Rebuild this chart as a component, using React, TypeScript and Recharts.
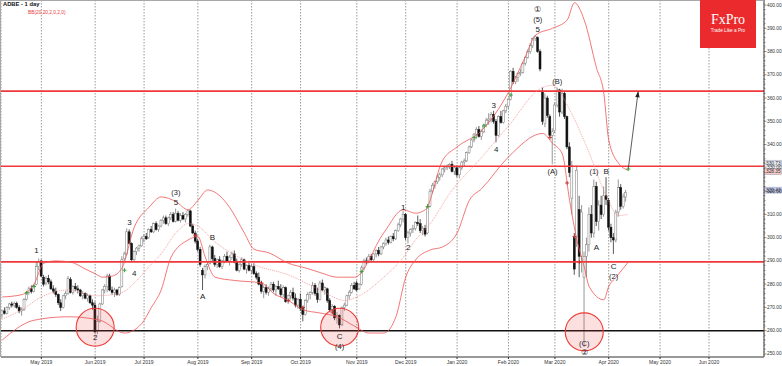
import {
  Bar,
  CartesianGrid,
  ComposedChart,
  Line,
  ReferenceDot,
  ReferenceLine,
  XAxis,
  YAxis,
} from "recharts";

// [open, high, low, close], one per trading day
type Ohlc = [number, number, number, number];

const apr2019: Ohlc[] = [
  [267, 269, 265.5, 268.5], [268.5, 270, 267, 267.5], [267.5, 270.5, 267, 270], [270, 272, 269, 271.5],
  [271.5, 272.5, 270, 271], [271, 272.5, 270, 271.8], [271.8, 272.5, 269.5, 270], [270, 271, 267.5, 268.5],
  [268.5, 270, 266.5, 269], [269, 274, 268.5, 273.5], [273.5, 277, 273, 276.5], [276.5, 279, 275.5, 278],
  [278, 279.5, 276, 276.8], [277, 280, 276.5, 279.5], [280, 289.5, 279.5, 287.5], [287.5, 291, 286, 289.5],
];
const may2019: Ohlc[] = [
  [290, 290.5, 283, 283.5], [283, 284, 279, 280], [280.5, 283.5, 279.5, 282.5], [282.5, 284, 280, 281],
  [281, 282, 277.5, 278], [278, 279.5, 276, 277], [277, 278.5, 274.5, 275.5], [275.5, 276, 271, 272],
  [272, 273.5, 268.5, 270], [270, 275.5, 269.5, 275], [275, 277, 273.5, 276], [276, 283.5, 275.5, 282.5],
  [282, 283, 276, 276.5], [276.5, 279.5, 275.5, 279], [279, 280.5, 277, 278], [278, 279.5, 276, 277.5],
  [277.5, 278, 274.5, 275], [275, 277, 273.5, 276], [276, 276.5, 273.5, 274], [274, 276, 272.5, 275],
  [275, 275.5, 271.5, 272], [272, 273.5, 269, 271],
];
const jun2019: Ohlc[] = [
  [271, 272.5, 259, 259.5], [260, 266.5, 258.5, 264], [264, 272, 263.5, 271.5], [271.5, 278, 271, 277.5],
  [277.5, 280, 276, 279], [279, 284.5, 276.5, 283.5], [283.5, 284.5, 277, 277.5], [277.5, 279, 275.5, 276.5],
  [276.5, 278.5, 274.5, 277.5], [277.5, 278, 275, 275.5], [275.5, 279, 275, 278.5], [279, 292, 278.5, 290.5],
  [291, 294, 289.5, 293], [293, 304, 292.5, 302.5], [302.5, 303.5, 297, 297.5], [297.5, 298, 289.5, 290.5],
  [290.5, 294.5, 289.5, 294], [294, 296, 292.5, 295.5], [295.5, 297, 294, 296.5], [296.5, 300.5, 296, 299.5],
];
const jul2019: Ohlc[] = [
  [299.5, 301.5, 298, 300.5], [300.5, 302, 299, 299.5], [300, 304, 299.5, 303.5], [303.5, 305, 302, 302.5],
  [302.5, 306.5, 302, 306], [306, 307, 303, 303.5], [303.5, 305.5, 302.5, 305], [305, 308, 304.5, 307.5],
  [307.5, 309.5, 306, 308.5], [308.5, 309.5, 305.5, 306], [306, 309, 305, 308.5], [308.5, 311, 307.5, 310],
  [310, 311, 306.5, 307], [307, 312.5, 306.5, 310.5], [310.5, 311.5, 307, 307.5], [307.5, 310.5, 306.5, 309.5],
  [309.5, 311, 307.5, 308], [308, 310.5, 306.5, 310], [310, 312, 309, 311.5], [311.5, 312, 304.5, 305],
  [305, 306, 301.5, 302], [302, 303, 297.5, 298.5],
];
const aug2019: Ohlc[] = [
  [298.5, 299.5, 294, 295], [295, 296, 287.5, 288.5], [286, 287, 277.5, 284], [284, 288.5, 282.5, 287.5],
  [287.5, 289.5, 286, 288.5], [289, 297, 288.5, 296], [296, 296.5, 290, 291], [291, 292.5, 287.5, 288.5],
  [288.5, 291, 287, 290.5], [290.5, 292, 287, 287.5], [287.5, 290.5, 286.5, 290], [290, 293, 289, 292],
  [292, 294, 289.5, 290], [290, 292.5, 288, 291.5], [291.5, 294, 290.5, 293], [293, 294.5, 289, 289.5],
  [289.5, 291, 285.5, 286], [286, 289, 285, 288.5], [288.5, 291.5, 287.5, 290.5], [290.5, 291, 286, 286.5],
  [286.5, 288.5, 284.5, 288], [288, 290, 285.5, 286],
];
const sep2019: Ohlc[] = [
  [286, 288.5, 284.5, 287.5], [287.5, 289, 284, 284.5], [284.5, 285.5, 282, 283], [283, 285, 279.5, 280],
  [280, 281.5, 276, 277], [277, 279.5, 274, 278.5], [278.5, 280, 275.5, 276.5], [276.5, 279, 275, 278],
  [278, 281, 277, 280], [280, 281, 276.5, 277.5], [277.5, 279.5, 275, 279], [279, 281.5, 277.5, 278],
  [278, 280, 274.5, 275.5], [275.5, 279.5, 274.5, 278.5], [278.5, 279, 272, 272.5], [272.5, 275.5, 271.5, 275],
  [275, 277.5, 273.5, 276.5], [276.5, 278.5, 273, 274], [274, 276, 270, 271], [271, 274, 269.5, 273.5],
];
const oct2019: Ohlc[] = [
  [273.5, 276, 268.5, 269.5], [269.5, 270.5, 264, 267], [267, 273.5, 266.5, 273], [273, 276.5, 272, 275.5],
  [275.5, 277, 273.5, 276.5], [276.5, 281, 275.5, 279.5], [279.5, 280.5, 275, 276], [276, 278.5, 272, 273.5],
  [273.5, 281.5, 273, 280.5], [280.5, 282, 277, 277.5], [277.5, 279, 275.5, 278.5], [278, 278.5, 272, 273],
  [273, 274, 268, 269], [269, 271.5, 267, 270.5], [270.5, 271, 264.5, 265.5], [265.5, 268, 263, 266.5],
  [266.5, 267, 261, 262.5], [262.5, 270.5, 262, 270], [270, 272, 268.5, 271], [271, 275.5, 270.5, 275],
  [275, 277.5, 273.5, 276.5], [276.5, 280.5, 276, 279.5], [279.5, 281, 277.5, 278],
];
const nov2019: Ohlc[] = [
  [280.5, 281.5, 277, 277.5], [278, 280.5, 277.5, 280], [280, 288, 279.5, 287], [287, 291, 286, 290],
  [290, 291.5, 288.5, 289.5], [289.5, 293, 289, 292], [292, 293, 289.5, 290.5], [290.5, 293.5, 290, 293],
  [293, 295, 291.5, 294.5], [294.5, 296, 292, 293], [293, 296.5, 292.5, 296], [296, 298, 295, 297.5],
  [297.5, 300, 296.5, 299], [299, 300.5, 297, 298], [298, 301, 297.5, 300.5], [300.5, 302, 298.5, 299.5],
  [299.5, 303.5, 299, 303], [303, 306.5, 302.5, 305.5], [305.5, 308.5, 304.5, 308], [308, 311.5, 306.5, 310],
];
const dec2019: Ohlc[] = [
  [310, 310.5, 299, 300], [300, 303, 297.5, 302], [302, 304, 300.5, 303.5], [303.5, 305.5, 302, 304],
  [304, 307, 303, 306.5], [306.5, 309.5, 305, 306], [306, 308, 302, 303], [303, 305, 301, 304],
  [304, 305.5, 300.5, 301.5], [302, 314.5, 301.5, 313.5], [313.5, 321, 313, 320], [320, 323.5, 319, 322.5],
  [322.5, 324.5, 321, 324], [324, 327, 323, 326], [326, 328, 324.5, 327], [327, 330, 326, 329.5],
  [329.5, 331, 328, 330], [330, 331.5, 329, 330.5], [330.5, 332, 329.5, 331.5], [331.5, 333, 328, 328.5],
  [328.5, 331, 327, 330],
];
const jan2020: Ohlc[] = [
  [330, 331, 326, 327], [327, 330.5, 325.5, 330], [330, 333, 329, 332.5], [332.5, 334, 330.5, 333],
  [333, 337, 332.5, 336.5], [336.5, 339.5, 336, 339], [339, 342.5, 338.5, 342], [342, 345, 341, 344.5],
  [344.5, 347.5, 342.5, 346.5], [346.5, 348, 343, 343.5], [343.5, 346.5, 342, 345.5], [345.5, 349, 345, 348.5],
  [348.5, 351.5, 347.5, 350.5], [350.5, 353.5, 348.5, 351], [351, 354, 349.5, 353], [353, 354.5, 349, 350],
  [350, 351, 341, 344], [344, 352.5, 343.5, 352], [352, 354.5, 349, 349.5], [349.5, 355, 349, 354.5],
  [354.5, 357.5, 353.5, 356.5],
];
const feb2020: Ohlc[] = [
  [356.5, 360, 355.5, 359.5], [359.5, 372, 359, 371.5], [371.5, 373, 366, 367], [367, 369.5, 366, 369],
  [369, 371, 367, 370.5], [370.5, 372.5, 369.5, 371], [371, 375.5, 370.5, 375], [375, 378, 374, 377.5],
  [377.5, 381, 377, 380], [380, 383.5, 379, 382.5], [382.5, 386, 381.5, 385.5], [385.5, 387, 384.5, 386.5],
  [386, 386.5, 379.5, 380], [380, 381, 371.5, 372.5], [363, 364.5, 348.5, 350], [349, 362, 347.5, 360],
  [360, 361, 351.5, 352.5], [352, 353, 343, 344], [344, 347, 331.5, 345.5],
];
const mar2020: Ohlc[] = [
  [346, 358, 345, 357], [357, 364.5, 356, 363.5], [363.5, 364, 352, 354], [354, 364, 353, 362],
  [362, 363, 351, 352], [352, 352.5, 338, 339], [339, 341, 326, 328], [317, 333, 310, 331],
  [300, 302, 284, 286.5], [300, 331, 296, 329], [312, 318, 283, 292], [292, 314, 285, 311],
  [283, 294, 253, 292], [292, 300, 283, 297], [297, 313, 294, 310], [310, 314, 300, 302],
  [302, 325, 300, 322], [322, 324, 305, 307], [307, 316, 303, 314], [314, 318, 308, 310],
  [310, 322, 309, 318], [318, 326, 314, 316.5],
];
const apr2020: Ohlc[] = [
  [316, 317, 303, 304.5], [304.5, 306, 298, 300], [300, 302, 293, 299], [299, 312, 298, 311],
  [311, 325, 309, 321.5], [321.5, 323, 312, 313.5], [313.5, 319, 312.5, 317.5], [317.5, 320.5, 315.5, 319.5],
];

const candles = [
  ...apr2019, ...may2019, ...jun2019, ...jul2019, ...aug2019, ...sep2019,
  ...oct2019, ...nov2019, ...dec2019, ...jan2020, ...feb2020, ...mar2020, ...apr2020,
];

// Bollinger bands, read at [day index, price]
const upperBand: [number, number][] = [
  [0, 274.5], [8, 275.5], [13, 280], [17, 289], [22, 290], [28, 289.5], [34, 286.5], [38, 284.5],
  [41, 283], [45, 283.5], [49, 287], [54, 304.5], [60, 313], [65, 317.5], [71, 315.5], [76, 312],
  [80, 316], [84, 320.5], [87, 319.5], [93, 313], [99, 302], [103, 295], [109, 293.5], [117, 289],
  [124, 287], [130, 285], [137, 283], [144, 283], [156, 302], [164, 312], [169, 310.5], [173, 312],
  [180, 333], [186, 339], [196, 346], [207, 362.5], [214, 378], [218, 387], [225, 390], [231, 393.5],
  [234, 401], [238, 393.5], [243, 373], [246, 362], [248, 342], [252, 332], [256, 329],
];
const middleBand: [number, number][] = [
  [0, 265], [8, 269], [16, 274.5], [27, 277.5], [38, 275], [48, 276], [54, 280.5], [60, 287.5],
  [65, 293], [71, 302], [76, 306], [80, 305], [86, 299], [96, 292], [104, 288], [117, 284],
  [130, 277.5], [140, 273], [146, 275], [156, 283], [164, 291.5], [169, 299], [175, 306], [183, 319],
  [196, 334.5], [207, 348], [220, 364], [225, 365.5], [232, 355], [239, 339], [247, 318], [252, 309.5],
  [256, 310],
];
const lowerBand: [number, number][] = [
  [0, 256], [13, 264.5], [27, 266], [40, 264.5], [50, 259], [57, 263], [61, 270], [65, 277.5],
  [69, 291.5], [76, 299], [80, 300.5], [83, 291.7], [87, 283], [95, 281.6], [106, 280.5], [111, 276],
  [117, 273], [123, 269], [130, 267.6], [137, 266], [144, 262], [150, 259], [156, 259], [161, 266],
  [165, 283], [169, 290.4], [175, 294.7], [180, 296], [186, 302], [191, 316], [196, 321], [207, 334.7],
  [221, 344.8], [225, 340.6], [229, 336], [232, 316], [235, 299], [238, 287.5], [240, 279], [246, 273.3],
  [248, 279], [251, 283], [256, 289.5],
];

const greenMarks: [number, number][] = [
  [10, 276.3], [13, 279], [50, 286], [147, 285.4], [174, 313.3], [193, 343], [197, 348], [208, 361.3], [256, 329.5],
];
const redMarks: [number, number][] = [
  [79, 301], [106, 280.5], [117, 273], [123, 270], [135, 268], [224, 343], [231, 323.5], [234, 300.5], [236, 289.5],
];
const projection: [number, number][] = [[256, 329.5], [260, 362.5]];

const redLevels = [363, 330.7, 289.6];
const blackLevels = [260];

const circles: [number, number][] = [[38, 261.5], [138, 261.5], [238, 259.5]];

const waveLabels: { i: number; p: number; t: string }[] = [
  { i: 14, p: 294.3, t: "1" }, { i: 38, p: 257.2, t: "2" }, { i: 52, p: 306.3, t: "3" },
  { i: 54, p: 284.8, t: "4" }, { i: 71, p: 319.2, t: "(3)" }, { i: 71, p: 314.9, t: "5" },
  { i: 82, p: 274.5, t: "A" }, { i: 86, p: 299.9, t: "B" }, { i: 138, p: 257.4, t: "C" },
  { i: 138, p: 253, t: "(4)" }, { i: 164, p: 312.8, t: "1" }, { i: 166, p: 295.6, t: "2" },
  { i: 201, p: 357, t: "3" }, { i: 202, p: 338.1, t: "4" }, { i: 219, p: 398, t: "①" },
  { i: 219, p: 393.8, t: "(5)" }, { i: 219, p: 389.6, t: "5" }, { i: 227, p: 367, t: "(B)" },
  { i: 225, p: 328.4, t: "(A)" }, { i: 242, p: 328.3, t: "(1)" }, { i: 247, p: 328.3, t: "B" },
  { i: 243, p: 295.6, t: "A" }, { i: 250, p: 287.4, t: "C" }, { i: 250, p: 283.1, t: "(2)" },
  { i: 238, p: 254.6, t: "(C)" }, { i: 238, p: 250.6, t: "②" },
];

const priceTags: { v: number; text: string; fill: string; dy: number }[] = [
  { v: 330.73, text: "330.73", fill: "#e4e6ee", dy: -3 },
  { v: 328.35, text: "328.35", fill: "#f6c9c9", dy: 0 },
  { v: 320.43, text: "320.43", fill: "#c9cdf2", dy: 0 },
];

const monthTicks = [16, 38, 58, 80, 102, 122, 145, 165, 186, 207, 226, 248, 269, 289];
const monthLabels = [
  "May 2019", "Jun 2019", "Jul 2019", "Aug 2019", "Sep 2019", "Oct 2019", "Nov 2019",
  "Dec 2019", "Jan 2020", "Feb 2020", "Mar 2020", "Apr 2020", "May 2020", "Jun 2020",
];

const SLOTS = 312;
const Y_MIN = 248.7;
const Y_MAX = 402.15;
const yTicks: number[] = [];
for (let v = 250; v <= 400; v += 2) yTicks.push(v);

const FONT = "'Liberation Sans', Arial, sans-serif";

const toMap = (pts: [number, number][]) => new Map(pts);
const upMap = toMap(upperBand);
const midMap = toMap(middleBand);
const lowMap = toMap(lowerBand);
const greenMap = toMap(greenMarks);
const redMap = toMap(redMarks);
const projMap = toMap(projection);

const rows = Array.from({ length: SLOTS }, (_, i) => {
  const k = candles[i];
  return {
    i,
    ohlc: k ?? null,
    range: k ? [k[2], k[1]] : null,
    upper: upMap.get(i) ?? null,
    middle: midMap.get(i) ?? null,
    lower: lowMap.get(i) ?? null,
    green: greenMap.get(i) ?? null,
    red: redMap.get(i) ?? null,
    proj: projMap.get(i) ?? null,
  };
});

function Candle(props: any) {
  const { x, y, width, height, payload } = props;
  if (!payload || !payload.ohlc) return null;
  const [o, h, l, c] = payload.ohlc as Ohlc;
  const top = Math.min(y, y + height);
  const span = Math.abs(height);
  const k = h - l > 0 ? span / (h - l) : 0;
  const cx = x + width / 2;
  const bodyTop = top + (h - Math.max(o, c)) * k;
  const bodyH = Math.max(Math.abs(o - c) * k, 0.8);
  const up = c >= o;
  return (
    <g>
      <line x1={cx} x2={cx} y1={top} y2={top + span} stroke={up ? "#6a6a6a" : "#111"} strokeWidth={0.7} />
      <rect
        x={cx - 1}
        y={bodyTop}
        width={2}
        height={bodyH}
        fill={up ? "#fff" : "#111"}
        stroke={up ? "#777" : "#111"}
        strokeWidth={0.5}
      />
    </g>
  );
}

const cross = (color: string) => (p: any) => {
  if (p.value == null || p.cy == null) return <g key={p.index} />;
  return (
    <g key={p.index}>
      <line x1={p.cx - 2} x2={p.cx + 2} y1={p.cy} y2={p.cy} stroke={color} strokeWidth={0.9} />
      <line x1={p.cx} x2={p.cx} y1={p.cy - 2} y2={p.cy + 2} stroke={color} strokeWidth={0.9} />
    </g>
  );
};

const arrowHead = (p: any) => {
  if (p.value == null || p.payload?.i !== projection[1][0]) return <g key={p.index} />;
  return (
    <polygon
      key={p.index}
      points={`${p.cx},${p.cy - 1} ${p.cx - 2.2},${p.cy + 5} ${p.cx + 2.2},${p.cy + 5}`}
      transform={`rotate(7.3 ${p.cx} ${p.cy})`}
      fill="#222"
    />
  );
};

const MonthTick = (p: any) => (
  <text x={p.x} y={p.y + 2.6} textAnchor="middle" dominantBaseline="central" fontSize={5} fill="#333" fontFamily={FONT}>
    {monthLabels[monthTicks.indexOf(p.payload.value)]}
  </text>
);

const PriceTick = (p: any) => {
  const v = p.payload.value as number;
  const major = v % 10 === 0;
  return (
    <g>
      <line x1={p.x} x2={p.x + (major ? 2.5 : 1.5)} y1={p.y} y2={p.y} stroke="#444" strokeWidth={0.6} />
      {major && (
        <text x={p.x + 3} y={p.y} dominantBaseline="central" fontSize={4.8} fill="#333" fontFamily={FONT}>
          {v.toFixed(2)}
        </text>
      )}
    </g>
  );
};

const PriceTag = (props: any) => {
  const { viewBox, text, fill, dy } = props;
  if (!viewBox) return null;
  const x = viewBox.x + viewBox.width;
  const y = viewBox.y + dy;
  return (
    <g>
      <rect x={x + 0.5} y={y - 3} width={17} height={6} fill={fill} stroke="#8a8fa8" strokeWidth={0.4} />
      <text x={x + 2} y={y + 0.2} dominantBaseline="central" fontSize={4.8} fill="#333" fontFamily={FONT}>
        {text}
      </text>
    </g>
  );
};

export default function App() {
  return (
    <div style={{ position: "absolute", left: 0, top: 0, width: 782, height: 366, background: "#fff" }}>
      <ComposedChart
        width={782}
        height={366}
        data={rows}
        margin={{ top: 0, right: 0, bottom: 0, left: 1 }}
        barCategoryGap={0}
      >
        <CartesianGrid horizontal={false} stroke="#9a9a9a" strokeDasharray="1.5 1.5" />
        <XAxis
          dataKey="i"
          type="category"
          ticks={monthTicks}
          interval={0}
          height={9}
          tickSize={2}
          tickMargin={0}
          stroke="#333"
          tick={<MonthTick />}
        />
        <YAxis
          orientation="right"
          type="number"
          domain={[Y_MIN, Y_MAX]}
          allowDataOverflow
          ticks={yTicks}
          interval={0}
          width={18}
          tickSize={0}
          tickMargin={0}
          tickLine={false}
          stroke="#444"
          tick={<PriceTick />}
        />
        {circles.map(([i, p], k) => (
          <ReferenceDot
            key={`c${k}`}
            x={i}
            y={p}
            r={19}
            fill="rgba(240,70,70,0.17)"
            stroke="#ee3a36"
            strokeWidth={1.1}
          />
        ))}
        {redLevels.map((v) => (
          <ReferenceLine key={`r${v}`} y={v} stroke="#f0383a" strokeWidth={1.6} />
        ))}
        {blackLevels.map((v) => (
          <ReferenceLine key={`b${v}`} y={v} stroke="#111" strokeWidth={1.4} />
        ))}
        {priceTags.map((t) => (
          <ReferenceLine
            key={t.text}
            y={t.v}
            stroke="none"
            label={<PriceTag text={t.text} fill={t.fill} dy={t.dy} />}
          />
        ))}
        <Line dataKey="upper" type="monotone" stroke="#f05454" strokeWidth={0.8} dot={false} connectNulls isAnimationActive={false} />
        <Line dataKey="lower" type="monotone" stroke="#f05454" strokeWidth={0.8} dot={false} connectNulls isAnimationActive={false} />
        <Line
          dataKey="middle"
          type="monotone"
          stroke="#f28a8a"
          strokeWidth={0.8}
          strokeDasharray="1 1"
          dot={false}
          connectNulls
          isAnimationActive={false}
        />
        <Bar dataKey="range" barSize={2} shape={Candle} isAnimationActive={false} />
        <Line dataKey="green" stroke="none" dot={cross("#2f9e2f")} activeDot={false} isAnimationActive={false} />
        <Line dataKey="red" stroke="none" dot={cross("#c0302c")} activeDot={false} isAnimationActive={false} />
        <Line dataKey="proj" stroke="#333" strokeWidth={0.8} connectNulls dot={arrowHead} activeDot={false} isAnimationActive={false} />
        {waveLabels.map((w, k) => (
          <ReferenceDot
            key={`w${k}`}
            x={w.i}
            y={w.p}
            r={0}
            ifOverflow="visible"
            shape={(p: any) => (
              <text
                x={p.cx}
                y={p.cy}
                textAnchor="middle"
                dominantBaseline="central"
                fontSize={w.t.length > 1 ? 7.5 : 8}
                fill="#222"
                fontFamily={FONT}
              >
                {w.t}
              </text>
            )}
          />
        ))}
      </ComposedChart>
      <div
        style={{
          position: "absolute",
          left: 0,
          top: 0,
          width: 763,
          height: 356,
          borderTop: "1px solid #a8a8a8",
          borderLeft: "1px solid #a8a8a8",
          pointerEvents: "none",
        }}
      />
      <div style={{ position: "absolute", left: 3, top: 1, fontFamily: FONT, fontSize: 5.8, fontWeight: 700, color: "#111", whiteSpace: "nowrap" }}>
        ADBE - 1 day
      </div>
      <div style={{ position: "absolute", left: 28, top: 9.5, fontFamily: FONT, fontSize: 4.8, color: "#e8383a", whiteSpace: "nowrap" }}>
        BB(20,20,2,0,2,0)
      </div>
      <div
        style={{
          position: "absolute",
          left: 700,
          top: 0,
          width: 56,
          height: 48,
          background: "#eb2a2e",
          color: "#fff",
          textAlign: "center",
        }}
      >
        <div style={{ position: "absolute", left: 0, right: 0, top: 12, fontFamily: "'Liberation Serif', serif", fontSize: 14, lineHeight: "16px" }}>
          FxPro
        </div>
        <div style={{ position: "absolute", left: 0, right: 0, top: 28, fontFamily: FONT, fontSize: 4.7, lineHeight: "6px", whiteSpace: "nowrap" }}>
          Trade Like a Pro
        </div>
      </div>
    </div>
  );
}
